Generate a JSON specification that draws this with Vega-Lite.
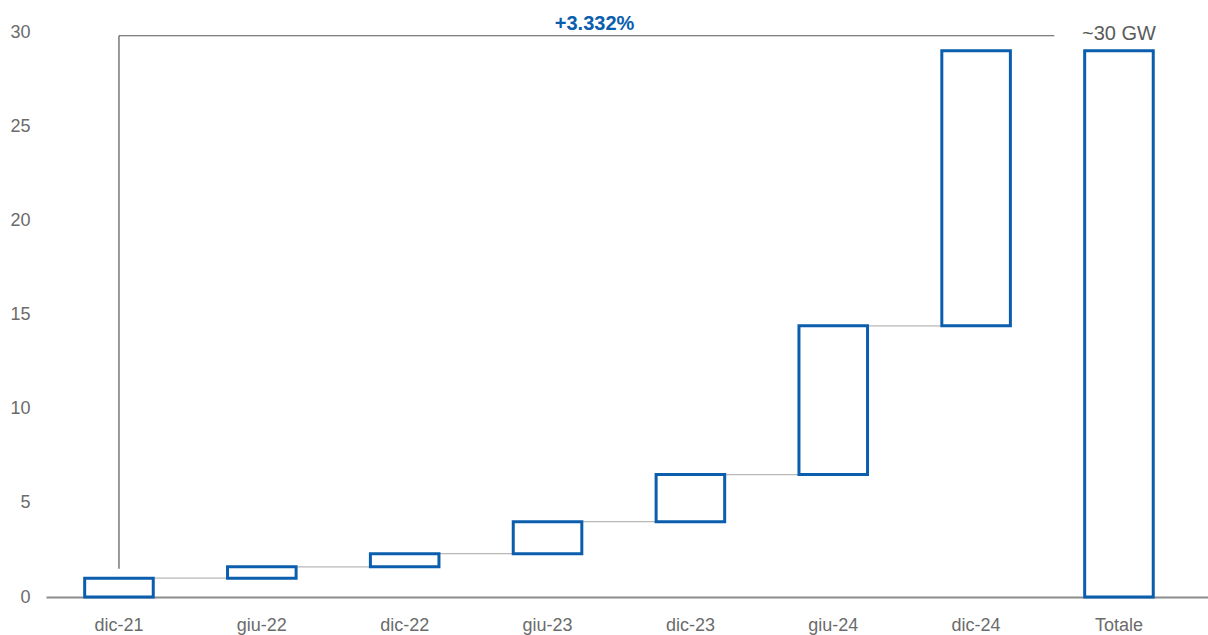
{
  "$schema": "https://vega.github.io/schema/vega-lite/v6.json",
  "width": 1162,
  "height": 565,
  "autosize": {"type": "none"},
  "padding": {"left": 46, "top": 32, "right": 0, "bottom": 38},
  "background": "white",
  "config": {
    "view": {"stroke": null},
    "font": "Liberation Sans"
  },
  "datasets": {
    "bars": [
      {"cat": "dic-21", "start": 0, "end": 1.0},
      {"cat": "giu-22", "start": 1.0, "end": 1.6},
      {"cat": "dic-22", "start": 1.6, "end": 2.3},
      {"cat": "giu-23", "start": 2.3, "end": 4.0},
      {"cat": "dic-23", "start": 4.0, "end": 6.5},
      {"cat": "giu-24", "start": 6.5, "end": 14.4},
      {"cat": "dic-24", "start": 14.4, "end": 29.0},
      {"cat": "Totale", "start": 0, "end": 29.0}
    ],
    "connectors": [
      {"cat": "dic-21", "next": "giu-22", "level": 1.0},
      {"cat": "giu-22", "next": "dic-22", "level": 1.6},
      {"cat": "dic-22", "next": "giu-23", "level": 2.3},
      {"cat": "giu-23", "next": "dic-23", "level": 4.0},
      {"cat": "dic-23", "next": "giu-24", "level": 6.5},
      {"cat": "giu-24", "next": "dic-24", "level": 14.4}
    ],
    "bracketV": [{"cat": "dic-21", "low": 1.5, "high": 29.8}],
    "bracketH": [{"from": "dic-21", "to": "dic-24", "level": 29.8}],
    "growth": [{"cat": "giu-23", "level": 30.45, "label": "+3.332%"}],
    "total": [{"cat": "Totale", "level": 29.9, "label": "~30 GW"}]
  },
  "encoding": {
    "x": {
      "field": "cat",
      "type": "nominal",
      "scale": {
        "domain": ["dic-21", "giu-22", "dic-22", "giu-23", "dic-23", "giu-24", "dic-24", "Totale"],
        "paddingInner": 0.52,
        "paddingOuter": 0.327,
        "align": 0.414
      },
      "axis": {
        "title": null,
        "labelAngle": 0,
        "ticks": false,
        "domainColor": "#8c8c8c",
        "domainWidth": 2,
        "labelColor": "#6b6b6b",
        "labelFontSize": 18,
        "labelPadding": 19,
        "labelFont": "Liberation Sans"
      }
    }
  },
  "layer": [
    {
      "data": {"name": "connectors"},
      "mark": {"type": "rule", "color": "#b8b8b8", "strokeWidth": 1.3},
      "encoding": {
        "x": {"field": "cat", "type": "nominal"},
        "x2": {"field": "next"},
        "y": {
          "field": "level",
          "type": "quantitative",
          "scale": {"domain": [0, 30], "nice": false},
          "axis": {
            "title": null,
            "values": [0, 5, 10, 15, 20, 25, 30],
            "domain": false,
            "ticks": false,
            "grid": false,
            "labelColor": "#6b6b6b",
            "labelFontSize": 18,
            "labelPadding": 16,
            "labelFont": "Liberation Sans"
          }
        }
      }
    },
    {
      "data": {"name": "bars"},
      "mark": {"type": "bar", "fill": "white", "stroke": "#0B5DAD", "strokeWidth": 3},
      "encoding": {
        "x": {"field": "cat", "type": "nominal"},
        "y": {"field": "start", "type": "quantitative"},
        "y2": {"field": "end"}
      }
    },
    {
      "data": {"name": "bracketV"},
      "mark": {"type": "rule", "color": "#555555", "strokeWidth": 1.2},
      "encoding": {
        "x": {"field": "cat", "type": "nominal"},
        "y": {"field": "low", "type": "quantitative"},
        "y2": {"field": "high"}
      }
    },
    {
      "data": {"name": "bracketH"},
      "mark": {"type": "rule", "color": "#555555", "strokeWidth": 1.2},
      "encoding": {
        "x": {"field": "to", "type": "nominal", "bandPosition": 1.64},
        "x2": {"field": "from"},
        "y": {"field": "level", "type": "quantitative"}
      }
    },
    {
      "data": {"name": "growth"},
      "mark": {"type": "text", "color": "#0B5DAD", "fontSize": 20, "fontWeight": "bold", "dx": 47, "baseline": "middle", "font": "Liberation Sans"},
      "encoding": {
        "x": {"field": "cat", "type": "nominal"},
        "y": {"field": "level", "type": "quantitative"},
        "text": {"field": "label"}
      }
    },
    {
      "data": {"name": "total"},
      "mark": {"type": "text", "color": "#5a5a5a", "fontSize": 20, "baseline": "middle", "font": "Liberation Sans"},
      "encoding": {
        "x": {"field": "cat", "type": "nominal"},
        "y": {"field": "level", "type": "quantitative"},
        "text": {"field": "label"}
      }
    }
  ]
}
